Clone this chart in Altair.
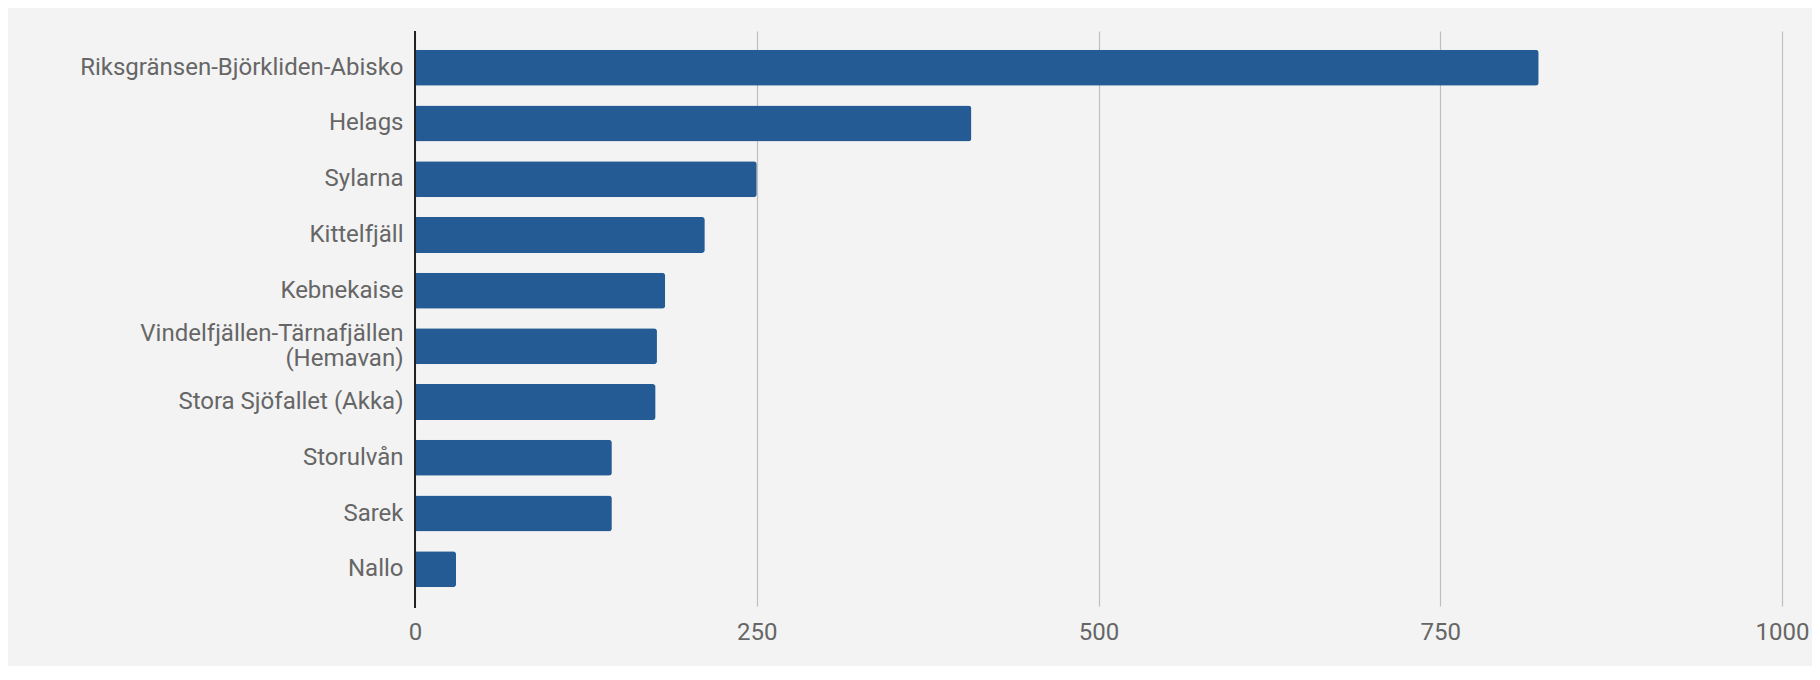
import altair as alt
import pandas as pd

# areas and their values
areas = [
    "Riksgränsen-Björkliden-Abisko",
    "Helags",
    "Sylarna",
    "Kittelfjäll",
    "Kebnekaise",
    "Vindelfjällen-Tärnafjällen\n(Hemavan)",
    "Stora Sjöfallet (Akka)",
    "Storulvån",
    "Sarek",
    "Nallo",
]
values = [822, 407, 250, 212, 183, 177, 176, 144, 144, 30]
x_ticks = [0, 250, 500, 750, 1000]

data = pd.DataFrame({"area": areas, "value": values})

y_enc = alt.Y(
    "area:N",
    sort=areas,
    title=None,
    scale=alt.Scale(paddingInner=0.354, paddingOuter=0.337),
    axis=alt.Axis(
        labelExpr="split(datum.label, '\\n')",
        labelFont="Roboto",
        labelFontSize=24,
        labelColor="#666666",
        labelPadding=12,
        labelLineHeight=25,
        labelLimit=500,
        # two-line labels are shifted up so the block sits on the bar centre
        labelOffset={
            "condition": {"test": "indexof(datum.value, '\\n') >= 0", "value": -12.5},
            "value": 0,
        },
        ticks=False,
        domain=False,
        grid=False,
    ),
)

bars = alt.Chart(data).mark_bar(
    color="#255b94", cornerRadiusEnd=3
).encode(
    x=alt.X(
        "value:Q",
        title=None,
        scale=alt.Scale(domain=[0, 1000], nice=False),
        axis=alt.Axis(
            values=x_ticks,
            format="d",
            labelFont="Roboto",
            labelFontSize=24,
            labelColor="#666666",
            labelPadding=14,
            labelFlush=False,
            ticks=False,
            domain=False,
            grid=True,
            gridColor="#bfbfbf",
            gridWidth=1.2,
        ),
    ),
    y=y_enc,
)

# dark baseline at zero
zero_line = alt.Chart(pd.DataFrame({"x": [0]})).mark_rule(
    color="#222222", strokeWidth=2
).encode(x="x:Q", y=alt.value(0), y2=alt.value(577))

chart = (
    (bars + zero_line)
    .properties(
        width=1367,
        height=575,
        background="#f3f3f3",
        autosize=alt.AutoSizeParams(type="none"),
        padding={"left": 407, "top": 23, "right": 30, "bottom": 60},
    )
    .configure_view(stroke=None)
)

chart.save("out.html", embed_options={"renderer": "svg", "actions": False})
